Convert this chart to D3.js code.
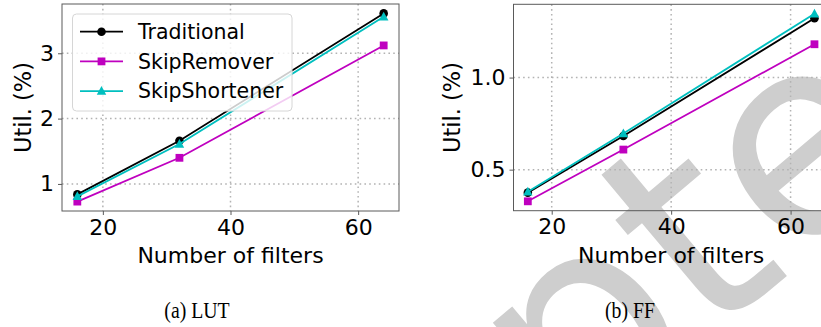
<!DOCTYPE html>
<html>
<head>
<meta charset="utf-8">
<script src="https://cdn.jsdelivr.net/npm/d3@7"></script>
<style>
  html, body { margin: 0; padding: 0; background: #fff; }
  svg { display: block; }
</style>
</head>
<body>
<svg id="fig" width="821" height="327"></svg>
<script>
// Number of filters on the x axis
const filters = [16, 32, 64];
const seriesNames = ["Traditional", "SkipRemover", "SkipShortener"];

// LUT utilisation (%)
const lutTraditional   = [0.84, 1.66, 3.61];
const lutSkipRemover   = [0.73, 1.40, 3.12];
const lutSkipShortener = [0.81, 1.61, 3.56];

// FF utilisation (%)
const ffTraditional   = [0.375, 0.683, 1.322];
const ffSkipRemover   = [0.328, 0.609, 1.181];
const ffSkipShortener = [0.380, 0.696, 1.347];

const xTicks = [20, 40, 60];
const lutYTicks = [1, 2, 3];
const ffYTicks = [0.5, 1.0];

const xLabel = "Number of filters";
const yLabel = "Util. (%)";
const captions = ["(a) LUT", "(b) FF"];

const colors = ["#000000", "#bf00bf", "#00bfbf"];
const markers = ["circle", "square", "triangle"];

const svg = d3.select("#fig");
const FONT = "DejaVu Sans, Verdana, sans-serif";

// Watermark stamp behind the panels
svg.append("text")
  .attr("transform", "translate(61,885) rotate(-40)")
  .attr("font-family", FONT)
  .attr("font-size", 280)
  .attr("fill", "#cecece")
  .text("Accepted");

function padded(vals) {
  const lo = d3.min(vals), hi = d3.max(vals);
  const m = (hi - lo) * 0.05;
  return [lo - m, hi + m];
}

function drawMarker(g, kind, x, y, color) {
  if (kind === "circle") {
    g.append("circle").attr("cx", x).attr("cy", y).attr("r", 4.3).attr("fill", color);
  } else if (kind === "square") {
    g.append("rect").attr("x", x - 3.9).attr("y", y - 3.9).attr("width", 7.8).attr("height", 7.8).attr("fill", color);
  } else {
    const s = 5;
    g.append("path")
      .attr("d", `M${x},${y - s}L${x + s * 0.95},${y + s * 0.75}L${x - s * 0.95},${y + s * 0.75}Z`)
      .attr("fill", color);
  }
}

function panel(opts) {
  const { left, right, top, bottom, series, yTicks, yFmt, ylabelX, legend, caption, capX } = opts;
  const g = svg.append("g");
  const x = d3.scaleLinear().domain(padded(filters)).range([left, right]);
  const y = d3.scaleLinear().domain(padded(series.flat())).range([bottom, top]);

  // dotted grid
  const grid = g.append("g").attr("stroke", "#b3b3b3").attr("stroke-width", 1.5)
    .attr("stroke-dasharray", "1.6,3.2");
  xTicks.forEach(t => grid.append("line")
    .attr("x1", x(t)).attr("x2", x(t)).attr("y1", top).attr("y2", bottom));
  yTicks.forEach(t => grid.append("line")
    .attr("x1", left).attr("x2", right).attr("y1", y(t)).attr("y2", y(t)));

  // series
  const line = d3.line().x((d, i) => x(filters[i])).y(d => y(d));
  series.forEach((vals, k) => {
    const sg = g.append("g");
    sg.append("path").datum(vals).attr("d", line)
      .attr("fill", "none").attr("stroke", colors[k]).attr("stroke-width", 1.8);
    vals.forEach((v, i) => drawMarker(sg, markers[k], x(filters[i]), y(v), colors[k]));
  });

  // frame
  g.append("rect").attr("x", left).attr("y", top)
    .attr("width", right - left).attr("height", bottom - top)
    .attr("fill", "none").attr("stroke", "#5a5a5a").attr("stroke-width", 1);

  // axes
  const xa = g.append("g").attr("transform", `translate(0,${bottom})`)
    .call(d3.axisBottom(x).tickValues(xTicks).tickSize(4).tickPadding(4).tickFormat(d3.format("d")));
  const ya = g.append("g").attr("transform", `translate(${left},0)`)
    .call(d3.axisLeft(y).tickValues(yTicks).tickSize(4).tickPadding(4).tickFormat(yFmt));
  [xa, ya].forEach(a => {
    a.select(".domain").remove();
    a.selectAll(".tick line").attr("stroke", "#5a5a5a");
    a.selectAll(".tick text").attr("font-family", FONT).attr("font-size", 22).attr("fill", "#000");
  });

  g.append("text").attr("x", (left + right) / 2).attr("y", 263)
    .attr("text-anchor", "middle").attr("font-family", FONT).attr("font-size", 22)
    .text(xLabel);
  g.append("text")
    .attr("transform", `translate(${ylabelX},${(top + bottom) / 2}) rotate(-90)`)
    .attr("text-anchor", "middle").attr("font-family", FONT).attr("font-size", 22.5)
    .text(yLabel);

  // sub-figure caption, set in a narrow serif
  svg.append("text").attr("transform", `translate(${capX},318) scale(0.86,1)`)
    .attr("text-anchor", "middle").attr("font-family", "Liberation Serif, serif")
    .attr("font-size", 23).text(caption);

  if (legend) {
    const lg = g.append("g");
    lg.append("rect").attr("x", 72.5).attr("y", 14).attr("width", 219.5).attr("height", 97)
      .attr("rx", 4).attr("fill", "#fff").attr("fill-opacity", 0.8)
      .attr("stroke", "#d6d6d6").attr("stroke-width", 1);
    seriesNames.forEach((name, k) => {
      const yy = 31.7 + k * 29.7;
      lg.append("line").attr("x1", 80).attr("x2", 123).attr("y1", yy).attr("y2", yy)
        .attr("stroke", colors[k]).attr("stroke-width", 1.8);
      drawMarker(lg, markers[k], 101.5, yy, colors[k]);
      lg.append("text").attr("x", 138).attr("y", yy).attr("dy", "0.36em")
        .attr("font-family", FONT).attr("font-size", 20.5).text(name);
    });
  }
}

panel({
  left: 62, right: 399, top: 4, bottom: 211,
  series: [lutTraditional, lutSkipRemover, lutSkipShortener],
  yTicks: lutYTicks, yFmt: d3.format("d"), ylabelX: 31,
  legend: true, caption: captions[0], capX: 197
});
panel({
  left: 513.5, right: 828.8, top: 4.3, bottom: 210.7,
  series: [ffTraditional, ffSkipRemover, ffSkipShortener],
  yTicks: ffYTicks, yFmt: d3.format(".1f"), ylabelX: 460,
  legend: false, caption: captions[1], capX: 630
});
</script>
</body>
</html>
